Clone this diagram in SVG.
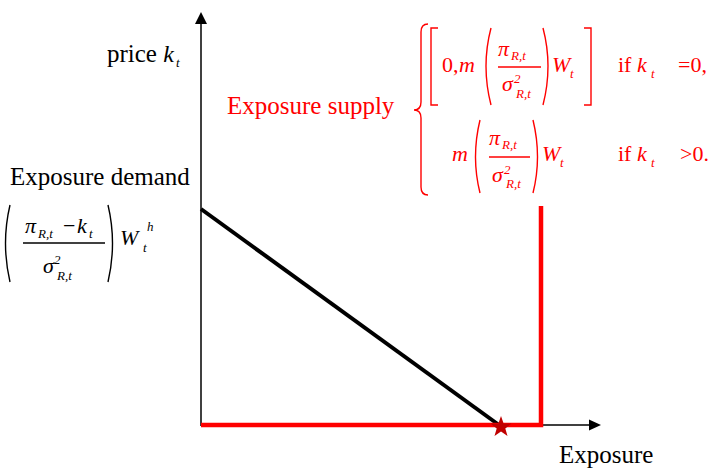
<svg xmlns="http://www.w3.org/2000/svg" width="716" height="469" viewBox="0 0 716 469">
<defs>
<style>
.lbl{font-family:"Liberation Serif","Times New Roman",serif;font-size:25px;fill:#000}
.red{fill:#ff0000}
.m{font-family:"Liberation Serif","Times New Roman",serif;font-size:22px}
.i{font-style:italic}
.s{font-family:"Liberation Serif","Times New Roman",serif;font-size:13px;font-style:italic}
.dl{fill:none;stroke-width:1.4}
.axis{stroke:#000;stroke-width:1.5;fill:none}
</style>
</defs>
<rect width="716" height="469" fill="#fff"/>
<g id="connectors">
<line class="axis" x1="201" y1="426" x2="201" y2="22"/>
<polygon points="201,12 195,24 207,24" fill="#000"/>
<line class="axis" x1="201" y1="425" x2="591" y2="425"/>
<polygon points="601,425 589,419.5 589,430.5" fill="#000"/>
<line id="demand-curve" x1="201" y1="209" x2="499" y2="425" stroke="#000" stroke-width="4"/>
<polyline id="supply-curve" points="201,425 541,425 541,206" fill="none" stroke="#ff0000" stroke-width="4.5"/>
</g>
<g id="equilibrium">
<polygon points="501,416 503.6,423.4 511.5,423.6 505.3,428.4 507.5,435.9 501,431.5 494.5,435.9 496.7,428.4 490.5,423.6 498.4,423.4" fill="#c00000"/>
</g>
<g id="price-label">
<text class="lbl" x="107" y="62">price <tspan class="i" font-size="24">k</tspan></text>
<text class="s" x="176" y="67" fill="#000">t</text>
</g>
<g id="exposure-label">
<text class="lbl" x="559" y="463">Exposure</text>
</g>
<g id="demand-label">
<text class="lbl" x="10" y="185">Exposure demand</text>
<path class="dl" stroke="#000" d="M10,205 Q1,243 10,282"/>
<path class="dl" stroke="#000" d="M108,205 Q117,243 108,282"/>
<text class="m i" x="25" y="233">π</text>
<text class="s" x="38" y="238">R,t</text>
<text class="m" x="63" y="233">−</text>
<text class="m i" x="77" y="233">k</text>
<text class="s" x="89" y="238">t</text>
<line x1="23" y1="243" x2="105" y2="243" stroke="#000" stroke-width="1.3"/>
<text class="m i" x="43" y="273">σ</text>
<text class="s" x="54" y="264" font-style="normal">2</text>
<text class="s" x="57" y="280">R,t</text>
<text class="m i" x="120" y="245" font-size="24">W</text>
<text class="s" x="147" y="231">h</text>
<text class="s" x="143" y="252">t</text>
</g>
<g id="supply-label" fill="#ff0000">
<text class="lbl red" x="227" y="114">Exposure supply</text>
<path class="dl" stroke="#ff0000" d="M428,24 Q421,24 421,32 L421,102 Q421,110 414,110 Q421,110 421,118 L421,187 Q421,195 428,195"/>
<path class="dl" stroke="#ff0000" d="M438,28 L431,28 L431,105 L438,105"/>
<path class="dl" stroke="#ff0000" d="M584,28 L591,28 L591,105 L584,105"/>
<text class="m" x="442" y="72">0,</text>
<text class="m i" x="459" y="72">m</text>
<path class="dl" stroke="#ff0000" d="M491,28 Q481,66 491,105"/>
<path class="dl" stroke="#ff0000" d="M543,28 Q553,66 543,105"/>
<text class="m i" x="498" y="56">π</text>
<text class="s" x="511" y="60">R,t</text>
<line x1="498" y1="67" x2="541" y2="67" stroke="#ff0000" stroke-width="1.3"/>
<text class="m i" x="502" y="91">σ</text>
<text class="s" x="514" y="83" font-style="normal">2</text>
<text class="s" x="516" y="98">R,t</text>
<text class="m i" x="552" y="72">W</text>
<text class="s" x="570" y="78">t</text>
<text class="m" x="618" y="72">if <tspan class="i">k</tspan></text>
<text class="s" x="651" y="78">t</text>
<text class="m" x="678" y="72">=0,</text>
<text class="m i" x="452" y="161">m</text>
<path class="dl" stroke="#ff0000" d="M480,120 Q471,157 480,193"/>
<path class="dl" stroke="#ff0000" d="M533,120 Q542,157 533,193"/>
<text class="m i" x="489" y="145">π</text>
<text class="s" x="502" y="149">R,t</text>
<line x1="489" y1="157" x2="530" y2="157" stroke="#ff0000" stroke-width="1.3"/>
<text class="m i" x="492" y="182">σ</text>
<text class="s" x="504" y="174" font-style="normal">2</text>
<text class="s" x="506" y="188">R,t</text>
<text class="m i" x="542" y="161">W</text>
<text class="s" x="560" y="167">t</text>
<text class="m" x="618" y="161">if <tspan class="i">k</tspan></text>
<text class="s" x="651" y="167">t</text>
<text class="m" x="680" y="161">&gt;0.</text>
</g>
</svg>
